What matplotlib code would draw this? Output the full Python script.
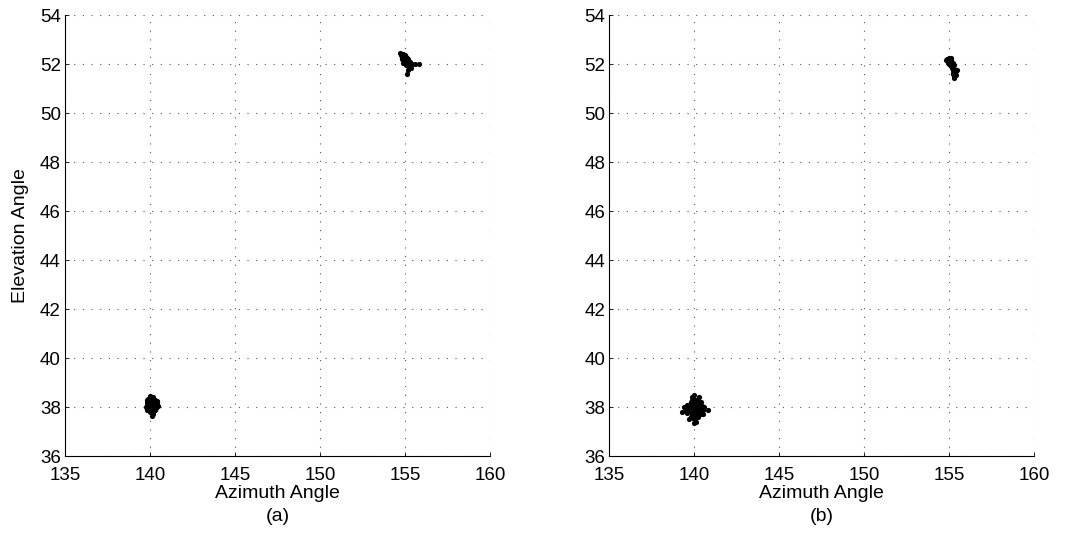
import matplotlib
matplotlib.use("Agg")
import matplotlib.pyplot as plt

plt.rcParams['font.family'] = ['Liberation Sans', 'DejaVu Sans']

# Estimated source directions, panel (a)
a_src1_az = [140.1, 139.9, 140.3, 140.0, 140.2, 139.8, 140.4, 140.1, 139.9, 140.2,
             140.0, 140.3, 139.8, 140.1, 140.2, 139.9, 140.0, 140.4, 140.1, 140.3,
             139.85, 140.15, 140.05, 139.95, 140.25, 140.35, 139.75, 140.45, 140.1, 140.0,
             140.2, 140.1, 139.9, 140.3, 140.0, 140.15, 139.8, 140.4, 139.9, 140.2,
             140.05, 139.95, 140.25, 140.1, 139.85, 140.35, 140.0, 140.15]
a_src1_el = [38.1, 38.2, 38.0, 38.3, 38.4, 37.9, 38.1, 37.8, 38.0, 38.2,
             38.1, 38.3, 38.2, 38.0, 37.9, 38.3, 37.8, 38.2, 38.4, 37.9,
             38.05, 38.25, 38.15, 37.95, 38.05, 38.15, 38.0, 38.05, 37.65, 38.45,
             38.3, 38.1, 38.1, 38.2, 38.0, 37.7, 38.1, 38.25, 38.35, 37.85,
             37.85, 38.35, 38.25, 37.95, 38.3, 37.95, 38.2, 38.0]
a_src2_az = [154.7, 154.8, 154.9, 155.0, 155.1, 155.2, 155.3, 154.85, 154.95, 155.05,
             155.15, 155.25, 154.75, 154.9, 155.0, 155.1, 155.2, 155.3, 155.4, 155.0,
             155.1, 154.8, 154.9, 155.2, 155.8, 155.6, 155.1, 155.2, 155.35, 155.05,
             154.8, 155.0, 155.15, 154.95, 155.25, 155.1]
a_src2_el = [52.45, 52.4, 52.3, 52.2, 52.1, 52.0, 51.95, 52.25, 52.15, 52.3,
             52.2, 52.1, 52.35, 52.05, 52.1, 52.0, 52.2, 52.1, 52.0, 52.35,
             52.25, 52.2, 52.4, 51.9, 52.0, 52.0, 51.6, 51.75, 51.85, 51.95,
             52.3, 52.25, 52.15, 52.35, 52.0, 52.05]

# Estimated source directions, panel (b)
b_src1_az = [140.0, 139.8, 140.2, 139.6, 140.4, 139.9, 140.1, 139.7, 140.3, 140.0,
             139.5, 140.5, 139.8, 140.2, 140.0, 139.9, 140.1, 139.6, 140.4, 140.0,
             139.3, 140.8, 139.7, 140.3, 140.1, 139.9, 140.6, 139.4, 140.0, 140.2,
             139.8, 140.1, 139.95, 140.05, 140.15, 139.85, 140.25, 139.75, 140.0, 140.5,
             139.7, 140.3, 139.9, 140.1, 139.6, 140.4, 139.8, 140.2, 140.0, 139.95,
             140.35, 139.65, 140.05, 139.85, 140.15, 139.55, 140.45, 140.0]
b_src1_el = [37.9, 38.0, 37.8, 37.9, 38.0, 37.7, 38.1, 37.8, 38.2, 38.3,
             37.9, 37.9, 37.6, 37.6, 37.5, 38.2, 38.3, 38.1, 37.7, 38.5,
             37.8, 37.9, 37.5, 38.4, 37.4, 38.4, 38.0, 38.0, 37.35, 38.1,
             38.2, 37.9, 37.85, 38.0, 37.95, 38.05, 37.85, 38.0, 38.15, 37.7,
             38.1, 37.95, 37.65, 37.65, 37.75, 38.2, 38.0, 38.05, 37.75, 38.25,
             37.85, 38.0, 37.55, 38.3, 38.0, 37.95, 38.05, 37.8]
b_src2_az = [154.9, 155.0, 155.1, 155.2, 155.3, 155.0, 155.1, 155.2, 155.3, 155.4,
             154.8, 155.05, 155.15, 155.25, 155.35, 155.2, 155.3, 155.1, 155.4, 155.3,
             155.0, 155.2, 155.25, 155.45, 155.1, 154.95, 155.05, 155.15, 155.25, 155.35]
b_src2_el = [52.2, 52.1, 52.0, 51.9, 51.8, 52.25, 52.15, 52.05, 51.95, 51.7,
             52.15, 51.95, 51.85, 51.75, 51.6, 51.6, 51.5, 51.9, 51.55, 51.45,
             52.0, 51.8, 51.65, 51.75, 52.25, 52.05, 52.1, 51.95, 51.85, 51.7]

x_ticks = [135, 140, 145, 150, 155, 160]
y_ticks = [36, 38, 40, 42, 44, 46, 48, 50, 52, 54]

fig = plt.figure(figsize=(10.65, 5.36), dpi=100)
ax_a = fig.add_axes([0.061, 0.149, 0.399, 0.823])
ax_b = fig.add_axes([0.572, 0.149, 0.399, 0.823])

panels = [
    (ax_a, a_src1_az, a_src1_el, a_src2_az, a_src2_el, '(a)'),
    (ax_b, b_src1_az, b_src1_el, b_src2_az, b_src2_el, '(b)'),
]

for ax, x1, y1, x2, y2, tag in panels:
    ax.scatter(x1, y1, s=14, c='black', marker='o', linewidths=0, zorder=3)
    ax.scatter(x2, y2, s=14, c='black', marker='o', linewidths=0, zorder=3)
    ax.set_xlim(135, 160)
    ax.set_ylim(36, 54)
    ax.set_xticks(x_ticks)
    ax.set_yticks(y_ticks)
    ax.grid(True, linestyle=(0, (1, 6.8)), color='#555555', linewidth=0.8)
    ax.spines['top'].set_visible(False)
    ax.spines['right'].set_visible(False)
    for sp in ('left', 'bottom'):
        ax.spines[sp].set_linewidth(0.8)
    ax.tick_params(direction='in', length=3, labelsize=13.5, width=0.6, pad=3)
    ax.tick_params(axis='x', pad=7.5)
    ax.set_xlabel('Azimuth Angle', fontsize=14, labelpad=1)
    ax.text(0.5, -0.118, tag, transform=ax.transAxes, ha='center', va='top', fontsize=14)

ax_a.set_ylabel('Elevation Angle', fontsize=14, labelpad=8)

fig.savefig('out.png', dpi=100)
